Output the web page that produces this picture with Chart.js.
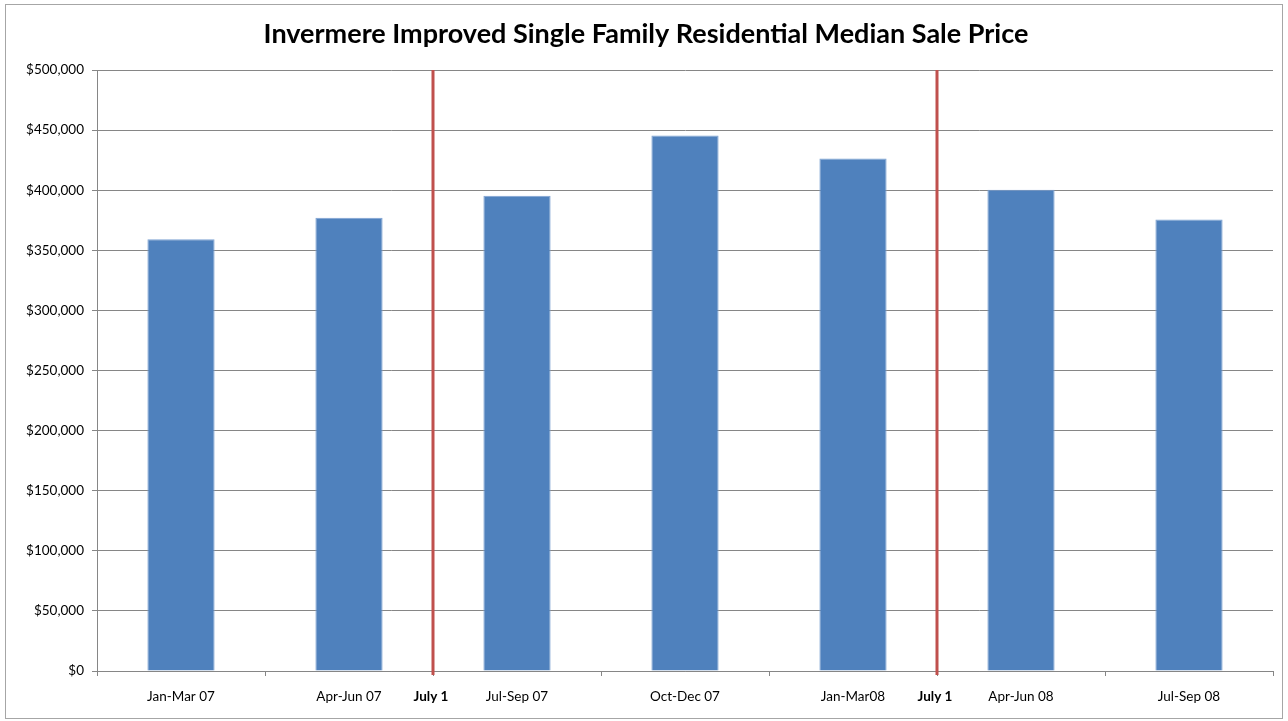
<!DOCTYPE html>
<html>
<head>
<meta charset="utf-8">
<script src="https://cdn.jsdelivr.net/npm/chart.js@4"></script>
<style>
  html, body { margin: 0; padding: 0; background: #fff; }
  #wrap { width: 1288px; height: 721px; position: relative; }
</style>
</head>
<body>
<div id="wrap"><canvas id="priceChart" width="1288" height="721"></canvas></div>
<script>
// data
const quarters = ['Jan-Mar 07', 'Apr-Jun 07', 'Jul-Sep 07', 'Oct-Dec 07', 'Jan-Mar08', 'Apr-Jun 08', 'Jul-Sep 08'];
const medianPrice = [359200, 377000, 395300, 445600, 426400, 400300, 375600];
const markerAt = [1.5, 4.5]; // between categories
const markerText = ['July 1', 'July 1'];
const titleText = 'Invermere Improved Single Family Residential Median Sale Price';

const FONT = 'Lato, "Open Sans", sans-serif';

// frame, title, red July 1 lines
const extras = {
  id: 'extras',
  beforeDraw(chart) {
    const c = chart.ctx;
    c.save();
    c.fillStyle = '#fff';
    c.fillRect(0, 0, chart.width, chart.height);
    c.strokeStyle = '#a6a6a6';
    c.lineWidth = 1;
    c.strokeRect(5.5, 4.5, 1277, 714);
    c.restore();
  },
  afterDraw(chart) {
    const c = chart.ctx;
    const xs = chart.scales.x;
    const area = chart.chartArea;
    c.save();
    c.fillStyle = '#000';
    c.font = 'bold 27px ' + FONT;
    c.textAlign = 'center';
    c.textBaseline = 'middle';
    c.fillText(titleText, 646, 34);

    markerAt.forEach((v, i) => {
      const x = xs.getPixelForValue(v);
      c.strokeStyle = '#c0504d';
      c.lineWidth = 3;
      c.beginPath();
      c.moveTo(x, area.top);
      c.lineTo(x, area.bottom + 4);
      c.stroke();
      c.font = 'bold 13.5px ' + FONT;
      c.fillText(markerText[i], x - 2, 697);
    });
    c.restore();
  }
};

new Chart(document.getElementById('priceChart'), {
  type: 'bar',
  data: {
    labels: quarters,
    datasets: [{
      label: 'Median Sale Price',
      data: medianPrice,
      backgroundColor: '#4f81bd',
      borderColor: '#7ea3d3',
      borderWidth: 1,
      barPercentage: 0.4,
      categoryPercentage: 1
    }]
  },
  options: {
    responsive: false,
    animation: false,
    layout: { padding: { top: 70, right: 15, left: 0, bottom: 0 } },
    plugins: {
      legend: { display: false },
      title: { display: false },
      tooltip: { enabled: false }
    },
    scales: {
      x: {
        grid: { drawOnChartArea: false, tickLength: 5, color: '#868686' },
        border: { color: '#868686' },
        ticks: { color: '#000', font: { family: FONT, size: 13.5 }, padding: 13, maxRotation: 0 },
        afterFit(s) { s.height = 50; }
      },
      y: {
        min: 0,
        max: 500000,
        grid: { color: '#868686', tickLength: 5 },
        border: { color: '#868686' },
        ticks: {
          stepSize: 50000,
          color: '#000',
          padding: 8,
          font: { family: FONT, size: 13.5 },
          callback: v => '$' + v.toLocaleString('en-US')
        },
        afterFit(s) { s.width = 97; }
      }
    }
  },
  plugins: [extras]
});
</script>
</body>
</html>
